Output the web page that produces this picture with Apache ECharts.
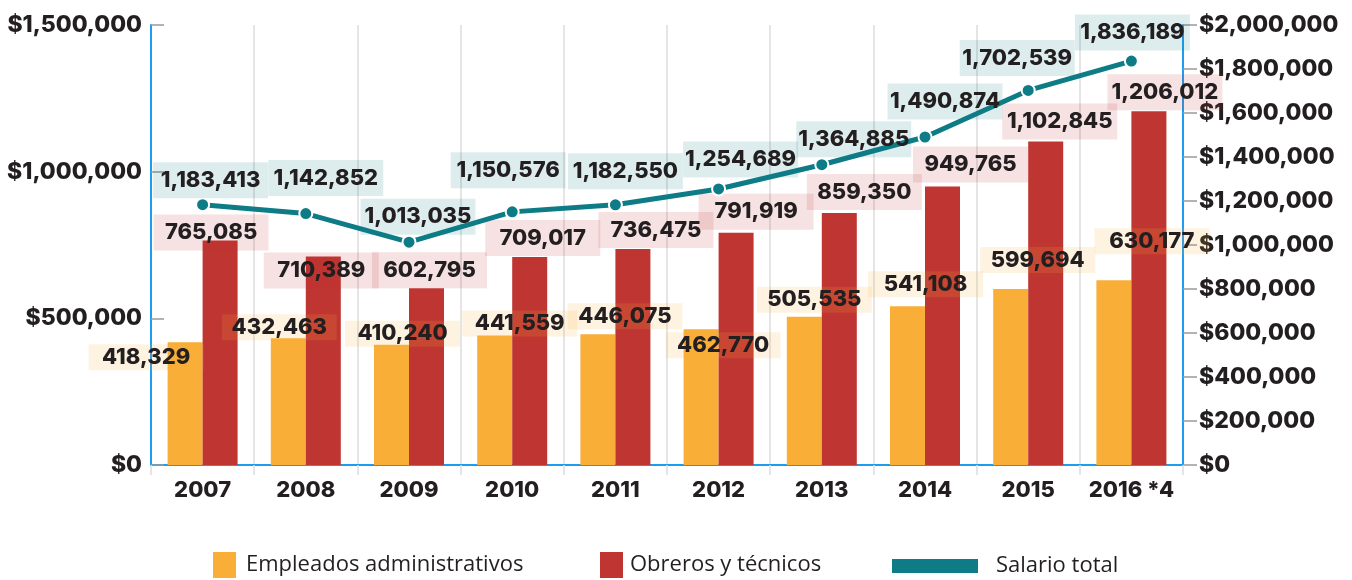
<!DOCTYPE html>
<html>
<head>
<meta charset="utf-8">
<script src="https://cdn.jsdelivr.net/npm/echarts@6/dist/echarts.min.js"></script>
<style>
html,body{margin:0;padding:0;background:#fff;}
#c{width:1352px;height:580px;}
</style>
</head>
<body>
<div id="c"></div>
<script>
// ---- data ----
const categories = ['2007','2008','2009','2010','2011','2012','2013','2014','2015','2016 *4'];
const empleados = [418329, 432463, 410240, 441559, 446075, 462770, 505535, 541108, 599694, 630177];
const obreros = [765085, 710389, 602795, 709017, 736475, 791919, 859350, 949765, 1102845, 1206012];
const salarioTotal = [1183413, 1142852, 1013035, 1150576, 1182550, 1254689, 1364885, 1490874, 1702539, 1836189];
const seriesNames = ['Empleados administrativos', 'Obreros y técnicos', 'Salario total'];

// ---- label layout (offsets from default 'top' placement) ----
const empOffsets = [[-39,28],[-9,2],[11,2],[25,1],[27,-5],[22,29],[10,-4],[18,-9],[27,-16],[38,-26]];
const obrOffsets = [[-9,10],[-2,32],[3,0],[13,-1],[23,-1],[20,-3],[25,-3],[28,-4],[14,-2],[16,-1]];
const salOffsets = [[8,1],[20,-10],[9,0],[-4,-16],[10,-8],[22,-4],[32,0],[20,-10],[-11,-7],[1,-3]];

const fmt = v => Number(v).toLocaleString('en-US');
const money = v => '$' + fmt(v);
const TXT = '#231f20';
const BLUE = '#1e9cf0';
const FONT = 'Inter, "DejaVu Sans", sans-serif';
const LFONT = '"Open Sans", sans-serif';

function labelBase(bg, pad) {
  return {
    show: true, position: 'top', distance: 0,
    formatter: p => fmt(p.value),
    fontFamily: FONT, fontWeight: 800, fontSize: 22, color: TXT,
    backgroundColor: bg, padding: pad, width: 97, align: 'center'
  };
}
function withLabels(values, offsets, bg, pad) {
  return values.map((v, i) => ({
    value: v,
    label: Object.assign(labelBase(bg, pad), { offset: offsets[i] })
  }));
}

const chart = echarts.init(document.getElementById('c'), null, {renderer: 'canvas'});
chart.setOption({
  animation: false,
  backgroundColor: '#fff',
  grid: {left: 151, right: 169, top: 25, bottom: 115},
  legend: [
    {data: [seriesNames[0]], left: 208, top: 547, itemWidth: 23, itemHeight: 26, icon: 'rect',
     textStyle: {fontFamily: LFONT, fontSize: 22, color: TXT, padding: [0,0,0,5]}},
    {data: [seriesNames[1]], left: 595, top: 547, itemWidth: 23, itemHeight: 26, icon: 'rect',
     textStyle: {fontFamily: LFONT, fontSize: 22, color: TXT, padding: [0,0,0,2]}},
    {data: [{name: seriesNames[2], icon: 'rect'}], left: 885, top: 550, itemWidth: 88, itemHeight: 16,
     textStyle: {fontFamily: LFONT, fontSize: 22, color: TXT, padding: [0,0,0,12]}}
  ],
  xAxis: {
    type: 'category', data: categories, boundaryGap: true,
    axisLine: {show: true, lineStyle: {color: BLUE, width: 2}},
    axisTick: {show: true, interval: 0, length: 10, lineStyle: {color: '#dddddd', width: 1.5}},
    splitLine: {show: true, interval: 0, lineStyle: {color: '#dddddd', width: 1.5}},
    axisLabel: {interval: 0, fontFamily: FONT, fontWeight: 800, fontSize: 22, color: TXT, margin: 14}
  },
  yAxis: [
    {type: 'value', min: 0, max: 1500000, interval: 500000, position: 'left',
     axisLine: {show: true, lineStyle: {color: BLUE, width: 2}},
     axisTick: {show: true, inside: true, length: 13, lineStyle: {color: '#999', width: 1.5}},
     splitLine: {show: false},
     axisLabel: {formatter: money, fontFamily: FONT, fontWeight: 800, fontSize: 23, color: TXT, margin: 9}},
    {type: 'value', min: 0, max: 2000000, interval: 200000, position: 'right',
     axisLine: {show: true, lineStyle: {color: BLUE, width: 2}},
     axisTick: {show: true, inside: false, length: 14, lineStyle: {color: '#999', width: 1.5}},
     splitLine: {show: false},
     axisLabel: {formatter: money, fontFamily: FONT, fontWeight: 800, fontSize: 23, color: TXT, margin: 16}}
  ],
  series: [
    {name: seriesNames[0], type: 'bar', yAxisIndex: 0, barWidth: 35, barGap: '0%',
     itemStyle: {color: '#f9ae38'},
     data: withLabels(empleados, empOffsets, 'rgba(249,174,56,0.15)', [2,9]), z: 2},
    {name: seriesNames[1], type: 'bar', yAxisIndex: 0, barWidth: 35,
     itemStyle: {color: '#bf3532'},
     data: withLabels(obreros, obrOffsets, 'rgba(191,53,50,0.14)', [7,9]), z: 2},
    {name: seriesNames[2], type: 'line', yAxisIndex: 1,
     symbol: 'circle', symbolSize: 13,
     lineStyle: {color: '#0e7c86', width: 5},
     itemStyle: {color: '#0e7c86', borderColor: '#fff', borderWidth: 2},
     data: withLabels(salarioTotal, salOffsets, 'rgba(14,124,134,0.14)', [7,9]), z: 5}
  ]
});
</script>
</body>
</html>
